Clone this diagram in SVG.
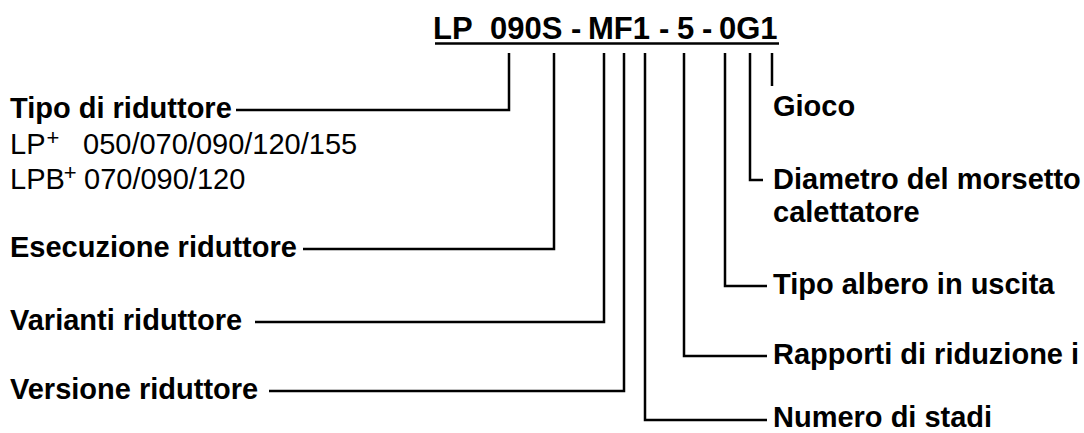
<svg xmlns="http://www.w3.org/2000/svg" width="1084" height="433" viewBox="0 0 1084 433">
<style>
.t{font-family:"Liberation Sans",Arial,sans-serif;font-weight:bold;font-size:31px;fill:#000}
.b{font-family:"Liberation Sans",Arial,sans-serif;font-weight:bold;font-size:29px;fill:#000}
.r{font-family:"Liberation Sans",Arial,sans-serif;font-size:29px;fill:#000}
.s{font-family:"Liberation Sans",Arial,sans-serif;font-size:22px;fill:#000}
.c{fill:none;stroke:#000;stroke-width:2.5}
</style>
<rect width="1084" height="433" fill="#fff"/>
<g id="code">
<text class="t" x="433" y="39">LP</text>
<text class="t" x="490" y="39">090S</text>
<text class="t" x="571" y="39">-</text>
<text class="t" x="588" y="39">MF1</text>
<text class="t" x="659" y="39">-</text>
<text class="t" x="677" y="39">5</text>
<text class="t" x="702" y="39">-</text>
<text class="t" x="719" y="39">0G1</text>
<line class="c" x1="435" y1="43.5" x2="779" y2="43.5"/>
</g>
<g id="tipo-riduttore">
<text class="b" x="10" y="118">Tipo di riduttore</text>
<text class="r" x="10" y="154">LP<tspan class="s" dx="1" dy="-9">+</tspan></text>
<text class="r" x="83" y="154">050/070/090/120/155</text>
<text class="r" x="10" y="189">LPB<tspan class="s" dx="-1" dy="-9">+</tspan></text>
<text class="r" x="84" y="189">070/090/120</text>
</g>
<g id="esecuzione"><text class="b" x="10" y="257">Esecuzione riduttore</text></g>
<g id="varianti"><text class="b" x="10" y="330">Varianti riduttore</text></g>
<g id="versione"><text class="b" x="10" y="399">Versione riduttore</text></g>
<g id="gioco"><text class="b" x="773" y="116">Gioco</text></g>
<g id="diametro"><text class="b" x="773" y="189">Diametro del morsetto</text><text class="b" x="773" y="222">calettatore</text></g>
<g id="albero"><text class="b" x="773" y="294">Tipo albero in uscita</text></g>
<g id="rapporti"><text class="b" x="773" y="364">Rapporti di riduzione i</text></g>
<g id="stadi"><text class="b" x="773" y="427">Numero di stadi</text></g>
<g id="connectors">
<polyline class="c" points="509,53 509,110 236,110"/>
<polyline class="c" points="554,53 554,249 303,249"/>
<polyline class="c" points="604,53 604,322 255,322"/>
<polyline class="c" points="624,53 624,391 269,391"/>
<polyline class="c" points="645,53 645,420 767,420"/>
<polyline class="c" points="684,53 684,356 767,356"/>
<polyline class="c" points="725,53 725,286 767,286"/>
<polyline class="c" points="750,53 750,180 763,180"/>
<line class="c" x1="772" y1="53" x2="772" y2="86"/>
</g>
</svg>
